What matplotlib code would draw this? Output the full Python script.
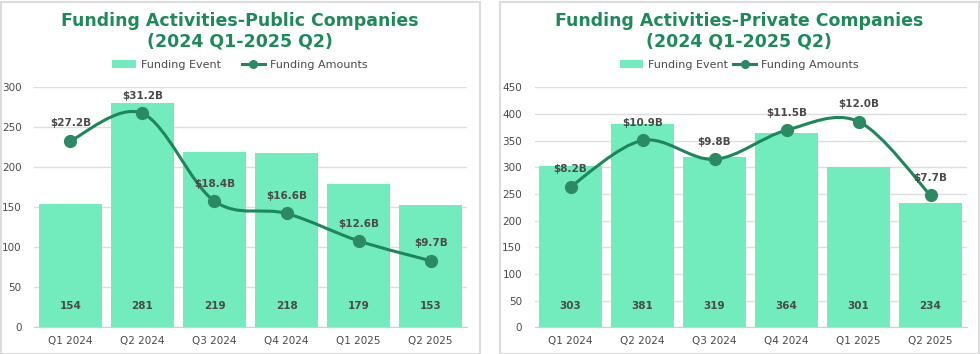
import matplotlib
matplotlib.use("Agg")
import matplotlib.pyplot as plt
from matplotlib.path import Path
from matplotlib.patches import PathPatch, Rectangle, Patch
from matplotlib.lines import Line2D

plt.rcParams['font.family'] = ['DejaVu Sans']

quarters = ["Q1 2024", "Q2 2024", "Q3 2024", "Q4 2024", "Q1 2025", "Q2 2025"]

public_events = [154, 281, 219, 218, 179, 153]
public_amounts = [27.2, 31.2, 18.4, 16.6, 12.6, 9.7]
public_title = "Funding Activities-Public Companies\n(2024 Q1-2025 Q2)"
public_yticks = [0, 50, 100, 150, 200, 250, 300]

private_events = [303, 381, 319, 364, 301, 234]
private_amounts = [8.2, 10.9, 9.8, 11.5, 12.0, 7.7]
private_title = "Funding Activities-Private Companies\n(2024 Q1-2025 Q2)"
private_yticks = [0, 50, 100, 150, 200, 250, 300, 350, 400, 450]

BAR = '#72ebbd'
LINE = '#1f855a'
MARK = '#2b8a62'
TITLE = '#1e8a5a'
TXT = '#4a4a4a'
GRID = '#dedede'

fig = plt.figure(figsize=(9.8, 3.54), dpi=100)
W, H = 980, 354


def smooth_path(xs, ys):
    n = len(xs)
    pts = list(zip(xs, ys))
    verts = [pts[0]]
    codes = [Path.MOVETO]
    for i in range(n - 1):
        p0 = pts[i - 1] if i > 0 else pts[i]
        p1 = pts[i]
        p2 = pts[i + 1]
        p3 = pts[i + 2] if i + 2 < n else pts[i + 1]
        c1 = (p1[0] + (p2[0] - p0[0]) / 6, p1[1] + (p2[1] - p0[1]) / 6)
        c2 = (p2[0] - (p3[0] - p1[0]) / 6, p2[1] - (p3[1] - p1[1]) / 6)
        verts += [c1, c2, p2]
        codes += [Path.CURVE4] * 3
    return Path(verts, codes)


def panel(x0, x1, ax_left, ax_right, events, amounts, yticks, amax, title, colsp):
    fig.patches.append(Rectangle((x0 / W, 0.5 / H), (x1 - x0) / W, 352 / H,
                                 transform=fig.transFigure, fill=False,
                                 edgecolor='#dcdcdc', linewidth=1.5))
    ax = fig.add_axes([ax_left / W, (H - 327.3) / H, (ax_right - ax_left) / W, 240 / H])
    xs = list(range(len(quarters)))
    ax.bar(xs, events, width=0.867, color=BAR, zorder=2)
    ax.set_xlim(-0.5, len(quarters) - 0.5)
    ax.set_ylim(0, yticks[-1])
    ax.set_yticks(yticks)
    ax.set_xticks(xs)
    ax.set_xticklabels(quarters)
    ax.tick_params(axis='both', length=0, labelsize=7.5, colors=TXT, pad=6)
    ax.tick_params(axis='y', pad=9)
    ax.grid(axis='y', color=GRID, linewidth=1, zorder=0)
    ax.set_axisbelow(True)
    for s in ['top', 'right', 'left']:
        ax.spines[s].set_visible(False)
    ax.spines['bottom'].set_color('#d0d0d0')
    for x, v in zip(xs, events):
        ax.text(x, 0.089, str(v), transform=ax.get_xaxis_transform(), ha='center',
                va='center', fontsize=7.5, fontweight='bold', color=TXT, zorder=5)
    ax2 = ax.twinx()
    ax2.set_ylim(0, amax)
    ax2.set_xlim(-0.5, len(quarters) - 0.5)
    ax2.axis('off')
    ax2.add_patch(PathPatch(smooth_path(xs, amounts), fill=False, edgecolor=LINE,
                            linewidth=2.2, zorder=3, capstyle='round'))
    ax2.plot(xs, amounts, linestyle='none', marker='o', markersize=8.5,
             color=MARK, zorder=4)
    for x, v in zip(xs, amounts):
        ax2.annotate(f"${v:.1f}B", (x, v), xytext=(0, 12.5), textcoords='offset points',
                     ha='center', va='center', fontsize=7.5, fontweight='bold',
                     color=TXT, zorder=6)
    cx = (x0 + x1) / 2
    fig.text(cx / W, 1 - 31.5 / H, title, ha='center', va='center', fontsize=12.5,
             fontweight='bold', color=TITLE, linespacing=1.2)
    handles = [Patch(facecolor=BAR, edgecolor='none'),
               Line2D([0], [0], color=LINE, linewidth=2.2, marker='o',
                      markersize=5.5, markerfacecolor=MARK, markeredgecolor=MARK)]
    fig.legend(handles, ["Funding Event", "Funding Amounts"], loc='center',
               bbox_to_anchor=(cx / W, 1 - 65 / H), ncol=2, frameon=False,
               fontsize=8, handlelength=2.1, handletextpad=0.45,
               columnspacing=colsp, labelcolor=TXT, borderpad=0)


panel(0.5, 479.5, 34.3, 466.7, public_events, public_amounts, public_yticks, 35,
      public_title, 1.9)
panel(499.5, 979, 534.5, 966.5, private_events, private_amounts, private_yticks, 14,
      private_title, 0.45)

fig.savefig("out.png", dpi=100)
